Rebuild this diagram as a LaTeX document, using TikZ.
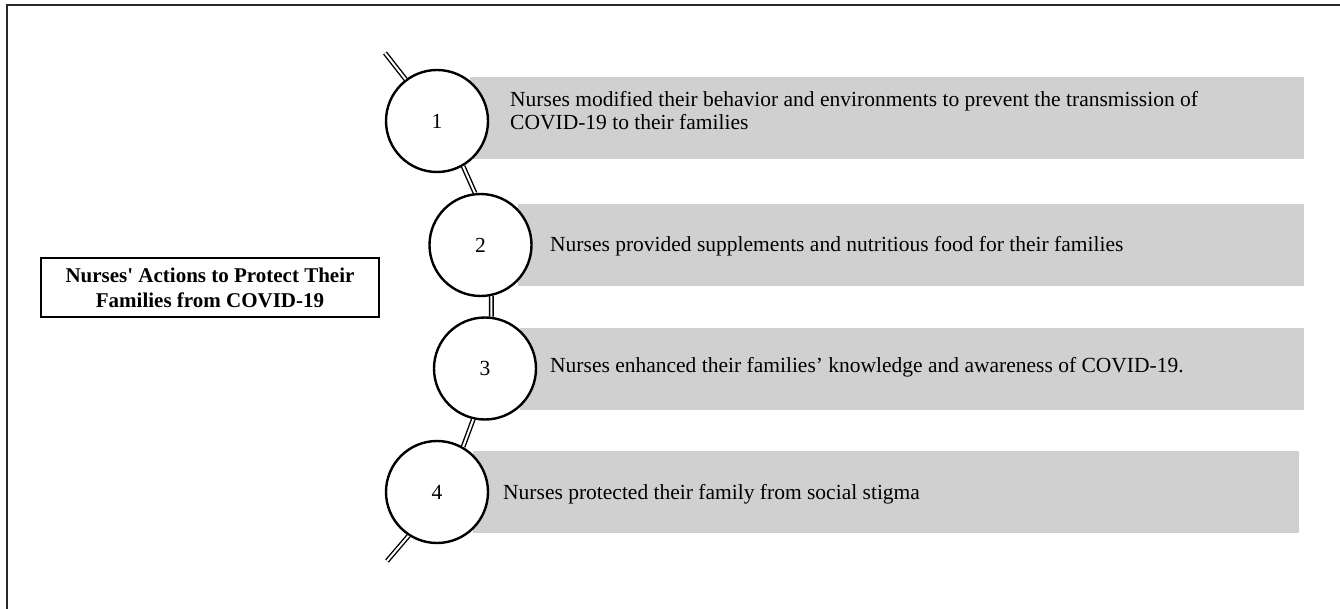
\documentclass[tikz,border=0pt]{standalone}
\usepackage{fontspec}
\setmainfont{Liberation Serif}
\begin{document}
\begin{tikzpicture}[x=1pt,y=-1pt,
  graybox/.style={fill=boxgray, inner sep=0pt, anchor=north west},
  itemtext/.style={font=\fontsize{21.5}{22.6}\selectfont, inner sep=0pt, align=left, anchor=base west},
  numcircle/.style={circle, draw=black, line width=2.4pt, fill=white, minimum size=102pt, inner sep=0pt, font=\fontsize{21.5}{23}\selectfont},
  link/.style={draw=black, line width=1.4pt, double=white, double distance=2pt},
  titlebox/.style={draw=black, line width=2pt, minimum width=338pt, minimum height=59pt, inner sep=0pt, align=center, font=\fontsize{21}{25}\selectfont\bfseries}
]
\definecolor{boxgray}{RGB}{208,208,208}
\definecolor{framegray}{RGB}{40,40,40}
\useasboundingbox (0,0) rectangle (1340,609);
\fill[white] (0,0) rectangle (1340,609);
% frame
\coordinate (ftl) at (7,5);
\coordinate (ftr) at (1340,5);
\coordinate (fbl) at (7,609);
\draw[framegray, line width=2pt] (fbl) -- (ftl) -- (ftr);

% title
\node[titlebox] (title) at (210,287.5) {Nurses\textquotesingle{} Actions to Protect Their\\Families from COVID-19};

% gray boxes
\node[graybox, minimum width=834pt, minimum height=82pt] (b1) at (470,77) {};
\node[graybox, minimum width=786pt, minimum height=82pt] (b2) at (518,204) {};
\node[graybox, minimum width=784pt, minimum height=82pt] (b3) at (520,328) {};
\node[graybox, minimum width=826pt, minimum height=82pt] (b4) at (473,451) {};

% texts
\node[itemtext] (t1) at (510,129.5) {Nurses modified their behavior and environments to prevent the transmission of\\COVID-19 to their families};
\node[itemtext] (t2) at (550,252) {Nurses provided supplements and nutritious food for their families};
\node[itemtext] (t3) at (550,372) {Nurses enhanced their families’ knowledge and awareness of COVID-19.};
\node[itemtext] (t4) at (503,499) {Nurses protected their family from social stigma};

% circles
\node[numcircle] (c1) at (437,121) {1};
\node[numcircle] (c2) at (480.5,245) {2};
\node[numcircle] (c3) at (485,368.5) {3};
\node[numcircle] (c4) at (437,492) {4};

% connectors
\coordinate (top) at (385,53);
\coordinate (bot) at (387,561);
\draw[link] (top) -- (c1.127);
\draw[link] (c1.-60) -- (c2.96);
\draw[link] (c2.-78) -- (c3.83);
\draw[link] (c3.-103) -- (c4.60);
\draw[link] (c4.-123) -- (bot);
\end{tikzpicture}
\end{document}
